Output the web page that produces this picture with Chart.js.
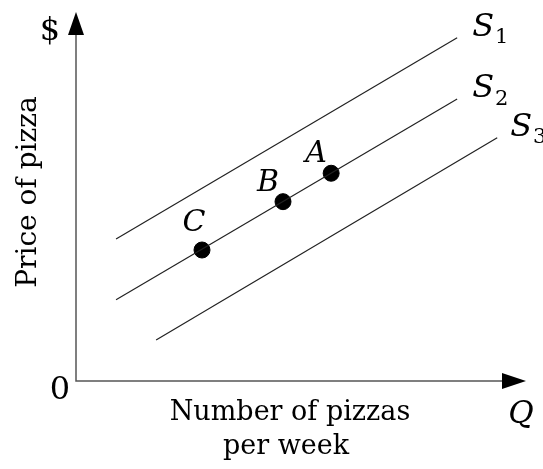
<!DOCTYPE html>
<html>
<head>
<meta charset="utf-8">
<script src="https://cdn.jsdelivr.net/npm/chart.js@4"></script>
<style>
  html, body { margin: 0; padding: 0; background: #fff; }
  #wrap { width: 543px; height: 469px; }
</style>
</head>
<body>
<div id="wrap"><canvas id="chart" width="543" height="469"></canvas></div>
<script>
// supply curves (start / end points, in axis units 0..10)
const supplyNames = ['S1', 'S2', 'S3'];
const supplyX = [[0.89, 8.47], [0.89, 8.47], [1.78, 9.36]];
const supplyY = [[3.85, 9.30], [2.20, 7.64], [1.11, 6.59]];

// points on S2
const pointNames = ['A', 'B', 'C'];
const pointX = [5.67, 4.60, 2.80];
const pointY = [5.63, 4.86, 3.55];

const serif = '"DejaVu Serif", "Liberation Serif", serif';

// axes with arrows + all the text labels
const econPlugin = {
    id: 'econ',
    afterDraw(chart) {
        const ctx = chart.ctx;
        const xs = chart.scales.x, ys = chart.scales.y;
        const ox = xs.getPixelForValue(0), oy = ys.getPixelForValue(0);
        const xEnd = xs.getPixelForValue(10), yEnd = ys.getPixelForValue(10);
        ctx.save();
        ctx.strokeStyle = '#555';
        ctx.lineWidth = 1.5;
        ctx.beginPath();
        ctx.moveTo(ox, yEnd + 20);
        ctx.lineTo(ox, oy);
        ctx.lineTo(xEnd - 22, oy);
        ctx.stroke();

        ctx.fillStyle = '#000';
        // y arrow
        ctx.beginPath();
        ctx.moveTo(ox, yEnd);
        ctx.lineTo(ox - 8, yEnd + 23);
        ctx.lineTo(ox + 8, yEnd + 23);
        ctx.closePath();
        ctx.fill();
        // x arrow
        ctx.beginPath();
        ctx.moveTo(xEnd, oy);
        ctx.lineTo(xEnd - 24, oy - 8);
        ctx.lineTo(xEnd - 24, oy + 8);
        ctx.closePath();
        ctx.fill();

        ctx.textAlign = 'center';
        ctx.textBaseline = 'middle';
        ctx.font = '32px ' + serif;
        ctx.fillText('$', 50, 32);
        ctx.fillText('0', 60, 391);
        ctx.font = '27px ' + serif;
        ctx.fillText('Number of pizzas', 290, 413);
        ctx.fillText('per week', 286, 447);

        ctx.save();
        ctx.translate(29, 192);
        ctx.rotate(-Math.PI / 2);
        ctx.font = '28px ' + serif;
        ctx.fillText('Price of pizza', 0, 0);
        ctx.restore();

        ctx.font = 'italic 31px ' + serif;
        ctx.fillText('Q', 521, 415);

        // curve labels S1 S2 S3 next to line ends
        const offs = [[22, -10], [22, -10], [20, -10]];
        supplyNames.forEach((name, i) => {
            const px = xs.getPixelForValue(supplyX[i][1]) + offs[i][0];
            const py = ys.getPixelForValue(supplyY[i][1]) + offs[i][1];
            ctx.textAlign = 'left';
            ctx.font = 'italic 32px ' + serif;
            ctx.fillText('S', px - 7, py);
            const w = ctx.measureText('S').width;
            ctx.font = '21px ' + serif;
            ctx.fillText(name.slice(1), px - 7 + w + 1, py + 10);
        });

        // point labels
        const pOffs = [[-15, -19], [-15, -18], [-8, -27]];
        ctx.textAlign = 'center';
        ctx.font = 'italic 30px ' + serif;
        pointNames.forEach((name, i) => {
            const px = xs.getPixelForValue(pointX[i]) + pOffs[i][0];
            const py = ys.getPixelForValue(pointY[i]) + pOffs[i][1];
            ctx.fillText(name, px, py);
        });
        ctx.restore();
    }
};

const datasets = supplyNames.map((name, i) => ({
    label: name,
    data: supplyX[i].map((x, j) => ({ x: x, y: supplyY[i][j] })),
    showLine: true,
    borderColor: '#222',
    borderWidth: 1.2,
    pointRadius: 0,
    fill: false
}));
datasets.push({
    label: 'points',
    data: pointX.map((x, i) => ({ x: x, y: pointY[i] })),
    showLine: false,
    pointRadius: 8,
    pointBackgroundColor: '#000',
    pointBorderColor: '#000'
});

new Chart(document.getElementById('chart').getContext('2d'), {
    type: 'scatter',
    data: { datasets: datasets },
    options: {
        responsive: false,
        animation: false,
        layout: { autoPadding: false, padding: { left: 76, right: 17, top: 12, bottom: 88 } },
        plugins: { legend: { display: false }, tooltip: { enabled: false } },
        scales: {
            x: { type: 'linear', min: 0, max: 10, display: false },
            y: { type: 'linear', min: 0, max: 10, display: false }
        }
    },
    plugins: [econPlugin]
});
</script>
</body>
</html>
